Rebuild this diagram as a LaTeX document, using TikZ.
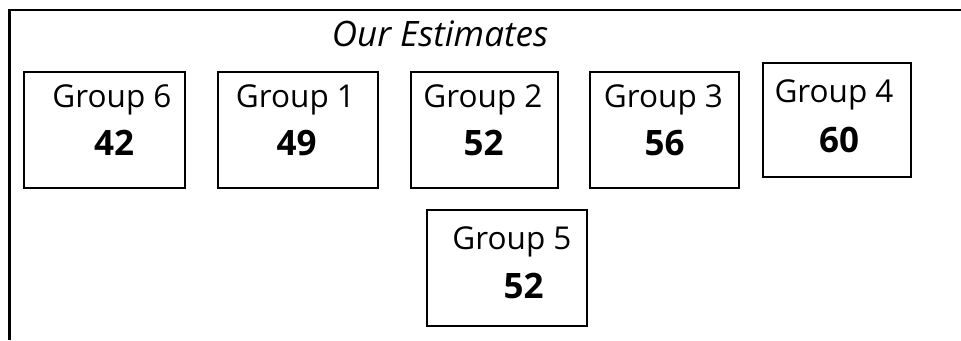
\documentclass[tikz,border=0pt]{standalone}
\usepackage{fontspec}
\setmainfont{Open Sans}
\begin{document}
\begin{tikzpicture}[x=1pt,y=-1pt,
  box/.style={draw, line width=1.4pt, inner sep=0pt},
  lab/.style={anchor=base, inner sep=0pt, font=\fontsize{31.5}{31.5}\selectfont},
  num/.style={anchor=base, inner sep=0pt, font=\fontsize{35}{35}\selectfont\bfseries},
  frame/.style={line width=2.6pt}]
\useasboundingbox (0,0) rectangle (961,340);
% frame
\coordinate (ftr) at (961,10);
\coordinate (ftl) at (9.5,10);
\coordinate (fbl) at (9.5,340);
\draw[frame] (ftr) -- (ftl) -- (fbl);
% title
\node[anchor=base, inner sep=0pt, font=\fontsize{35}{35}\selectfont\itshape] (title) at (440,46) {Our Estimates};
% boxes
\node[box, minimum width=161pt, minimum height=116pt] (b6) at (104.5,130) {};
\node[box, minimum width=160pt, minimum height=116pt] (b1) at (298,130) {};
\node[box, minimum width=147pt, minimum height=116pt] (b2) at (484.5,130) {};
\node[box, minimum width=149pt, minimum height=116pt] (b3) at (664.5,130) {};
\node[box, minimum width=148pt, minimum height=114pt] (b4) at (837,120) {};
\node[box, minimum width=160pt, minimum height=116pt] (b5) at (507,268) {};
% labels
\node[lab] (l6) at (112,107) {Group 6};
\node[num] (n6) at (114,155) {42};
\node[lab] (l1) at (295.5,107) {Group 1};
\node[num] (n1) at (296.5,155) {49};
\node[lab] (l2) at (483,107) {Group 2};
\node[num] (n2) at (483.5,155) {52};
\node[lab] (l3) at (663.5,107) {Group 3};
\node[num] (n3) at (664.5,155) {56};
\node[lab] (l4) at (834,102) {Group 4};
\node[num] (n4) at (839,152) {60};
\node[lab] (l5) at (512,249) {Group 5};
\node[num] (n5) at (523.5,298) {52};
\end{tikzpicture}
\end{document}
